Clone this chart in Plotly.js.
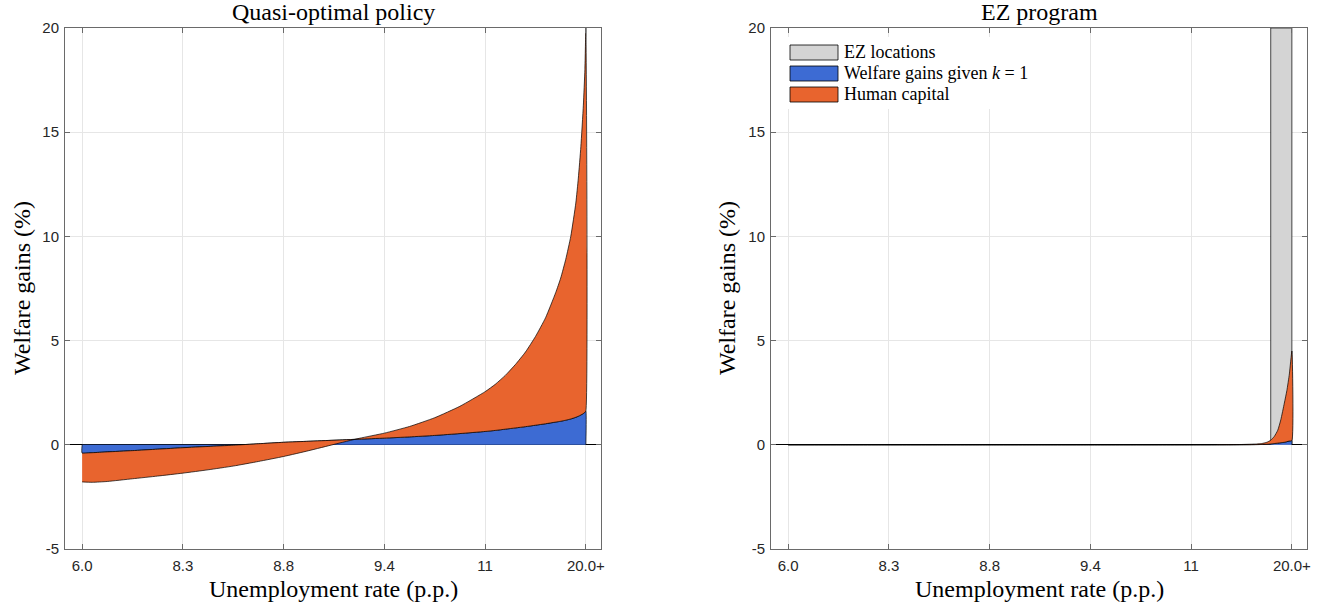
<!DOCTYPE html>
<html>
<head>
<meta charset="utf-8">
<script src="https://cdn.plot.ly/plotly-3.0.1.min.js"></script>
<style>html,body{margin:0;padding:0;background:#fff;}#chart{width:1325px;height:608px;}</style>
</head>
<body>
<div id="chart"></div>
<script>
// Tick positions (percentile index of unemployment rate) and labels
const tickPos = [0, 20, 40, 60, 80, 100];
const tickLabels = ['6.0', '8.3', '8.8', '9.4', '11', '20.0+'];
const yTicks = [-5, 0, 5, 10, 15, 20];

// Left panel: Quasi-optimal policy
const leftX = [0, 2, 5, 10, 15, 20, 25, 30, 35, 40, 45, 50, 55, 60, 65, 70, 75, 80, 82, 84, 86, 88, 90, 92, 94, 95, 96, 97, 98, 98.5, 99, 99.5, 99.8, 100];
const leftWelfareK1 = [-0.40, -0.38, -0.34, -0.28, -0.21, -0.14, -0.08, -0.02, 0.05, 0.12, 0.17, 0.22, 0.27, 0.32, 0.38, 0.45, 0.54, 0.64, 0.69, 0.75, 0.81, 0.87, 0.94, 1.01, 1.09, 1.13, 1.18, 1.24, 1.32, 1.37, 1.43, 1.50, 1.56, 1.62];
const leftHumanCapital = [-1.78, -1.80, -1.76, -1.63, -1.50, -1.36, -1.20, -1.02, -0.80, -0.56, -0.28, 0.02, 0.31, 0.56, 0.88, 1.30, 1.85, 2.55, 2.90, 3.33, 3.85, 4.45, 5.20, 6.10, 7.30, 8.00, 8.90, 10.0, 11.6, 12.8, 14.3, 16.3, 18.0, 20.0];

// Right panel: EZ program
const rightX = [0, 10, 20, 30, 40, 50, 60, 70, 80, 85, 88, 90, 92, 93, 94, 95, 95.8, 96.5, 97.2, 97.8, 98.5, 99, 99.5, 100];
const rightWelfareK1 = [0, 0, 0, 0, 0, 0, 0, 0, 0, 0, 0, 0.003, 0.006, 0.01, 0.015, 0.025, 0.04, 0.06, 0.08, 0.10, 0.12, 0.15, 0.18, 0.20];
const rightHumanCapital = [0, 0, 0, 0, 0, 0, 0, 0.001, 0.003, 0.006, 0.01, 0.015, 0.03, 0.04, 0.06, 0.12, 0.22, 0.40, 0.70, 1.20, 2.00, 2.60, 3.40, 4.50];
const ezRange = [95.8, 100];
const ezTop = 20;

const BLUE = '#3d6bd3';
const ORANGE = '#e8642e';
const GREY = '#d4d4d4';
const EDGE = {color: '#000000', width: 0.7, shape: 'spline', smoothing: 0.5};
const EDGE_STRAIGHT = {color: '#000000', width: 0.7};

function rev(a) { return a.slice().reverse(); }

// area between baseline 0 and series (closed polygon)
function baseArea(x, y) {
  return {x: [x[0]].concat(x, [x[x.length - 1]]), y: [0].concat(y, [0])};
}
// stacked area between lower and upper curves
function bandArea(x, lower, upper) {
  return {x: x.concat(rev(x)), y: upper.concat(rev(lower))};
}

const lb = baseArea(leftX, leftWelfareK1);
const lo = bandArea(leftX, leftWelfareK1, leftHumanCapital);
const rb = baseArea(rightX, rightWelfareK1);
const ro = bandArea(rightX, rightWelfareK1, rightHumanCapital);

const traces = [
  {x: lb.x, y: lb.y, xaxis: 'x', yaxis: 'y', type: 'scatter', mode: 'lines', fill: 'toself', fillcolor: BLUE, line: EDGE, name: 'Welfare gains given k = 1', showlegend: false, hoverinfo: 'skip'},
  {x: lo.x, y: lo.y, xaxis: 'x', yaxis: 'y', type: 'scatter', mode: 'lines', fill: 'toself', fillcolor: ORANGE, line: EDGE, name: 'Human capital', showlegend: false, hoverinfo: 'skip'},
  {x: [ezRange[0], ezRange[0], ezRange[1], ezRange[1]], y: [0, ezTop, ezTop, 0], xaxis: 'x2', yaxis: 'y2', type: 'scatter', mode: 'lines', fill: 'toself', fillcolor: GREY, line: EDGE_STRAIGHT, name: 'EZ locations', showlegend: false, hoverinfo: 'skip'},
  {x: rb.x, y: rb.y, xaxis: 'x2', yaxis: 'y2', type: 'scatter', mode: 'lines', fill: 'toself', fillcolor: BLUE, line: EDGE, name: 'Welfare gains given k = 1', showlegend: false, hoverinfo: 'skip'},
  {x: ro.x, y: ro.y, xaxis: 'x2', yaxis: 'y2', type: 'scatter', mode: 'lines', fill: 'toself', fillcolor: ORANGE, line: EDGE, name: 'Human capital', showlegend: false, hoverinfo: 'skip'}
];

const W = 1325, H = 608;
const px = v => v / W;
const py = v => 1 - v / H;

const AX_COLOR = '#6a6a6a';
const TICK_FONT = {family: 'Liberation Sans, Arial, sans-serif', size: 15, color: '#262626'};
const SERIF = 'Liberation Serif, DejaVu Serif, serif';

function xAxis(domain, anchor) {
  return {
    domain: domain, anchor: anchor, range: [-3.4, 103], tickmode: 'array', tickvals: tickPos, ticktext: tickLabels,
    showline: true, mirror: 'ticks', linecolor: AX_COLOR, linewidth: 1, ticks: 'inside', ticklen: 5, tickcolor: AX_COLOR,
    showgrid: true, gridcolor: '#e6e6e6', gridwidth: 1, zeroline: false, tickfont: TICK_FONT, ticklabelstandoff: 3, fixedrange: true
  };
}
function yAxis(anchor) {
  return {
    domain: [py(549), py(28)], anchor: anchor, range: [-5, 20], tickmode: 'array', tickvals: yTicks, ticktext: yTicks.map(String),
    showline: true, mirror: 'ticks', linecolor: AX_COLOR, linewidth: 1, ticks: 'inside', ticklen: 5, tickcolor: AX_COLOR,
    showgrid: true, gridcolor: '#e6e6e6', gridwidth: 1, zeroline: true, zerolinecolor: '#000000', zerolinewidth: 1,
    tickfont: TICK_FONT, ticklabelstandoff: 2, fixedrange: true
  };
}

const leftDom = [px(65), px(601)];
const rightDom = [px(771), px(1307)];
const titleFont = {family: SERIF, size: 24, color: '#000'};
const legFont = {family: SERIF, size: 18, color: '#000'};

const annotations = [
  {text: 'Quasi-optimal policy', xref: 'paper', yref: 'paper', x: (leftDom[0] + leftDom[1]) / 2, y: py(12), xanchor: 'center', yanchor: 'middle', showarrow: false, font: titleFont},
  {text: 'EZ program', xref: 'paper', yref: 'paper', x: (rightDom[0] + rightDom[1]) / 2, y: py(12), xanchor: 'center', yanchor: 'middle', showarrow: false, font: titleFont},
  {text: 'Unemployment rate (p.p.)', xref: 'paper', yref: 'paper', x: (leftDom[0] + leftDom[1]) / 2, y: py(589), xanchor: 'center', yanchor: 'middle', showarrow: false, font: titleFont},
  {text: 'Unemployment rate (p.p.)', xref: 'paper', yref: 'paper', x: (rightDom[0] + rightDom[1]) / 2, y: py(589), xanchor: 'center', yanchor: 'middle', showarrow: false, font: titleFont},
  {text: 'Welfare gains (%)', xref: 'paper', yref: 'paper', x: px(22), y: py(288), xanchor: 'center', yanchor: 'middle', textangle: -90, showarrow: false, font: titleFont},
  {text: 'Welfare gains (%)', xref: 'paper', yref: 'paper', x: px(727), y: py(288), xanchor: 'center', yanchor: 'middle', textangle: -90, showarrow: false, font: titleFont},
  {text: 'EZ locations', xref: 'paper', yref: 'paper', x: px(842), y: py(52), xanchor: 'left', yanchor: 'middle', showarrow: false, font: legFont},
  {text: 'Welfare gains given <i>k</i> = 1', xref: 'paper', yref: 'paper', x: px(842), y: py(73), xanchor: 'left', yanchor: 'middle', showarrow: false, font: legFont},
  {text: 'Human capital', xref: 'paper', yref: 'paper', x: px(842), y: py(94), xanchor: 'left', yanchor: 'middle', showarrow: false, font: legFont}
];

const legendBoxes = [[45, 60, GREY], [66, 81, BLUE], [87, 102, ORANGE]];
const shapes = [
  {type: 'rect', xref: 'paper', yref: 'paper', x0: px(781), x1: px(1040), y0: py(37), y1: py(109), fillcolor: '#ffffff', line: {width: 0}, layer: 'above'}
].concat(legendBoxes.map(b => ({
  type: 'rect', xref: 'paper', yref: 'paper', x0: px(790), x1: px(838), y0: py(b[0]), y1: py(b[1]), fillcolor: b[2], line: {color: '#000', width: 0.8}, layer: 'above'
})));

const layout = {
  width: W, height: H, margin: {l: 0, r: 0, t: 0, b: 0}, paper_bgcolor: '#fff', plot_bgcolor: '#fff', showlegend: false,
  xaxis: xAxis(leftDom, 'y'), yaxis: yAxis('x'),
  xaxis2: xAxis(rightDom, 'y2'), yaxis2: yAxis('x2'),
  annotations: annotations, shapes: shapes
};

Plotly.newPlot('chart', traces, layout, {displayModeBar: false, staticPlot: true});
</script>
</body>
</html>
